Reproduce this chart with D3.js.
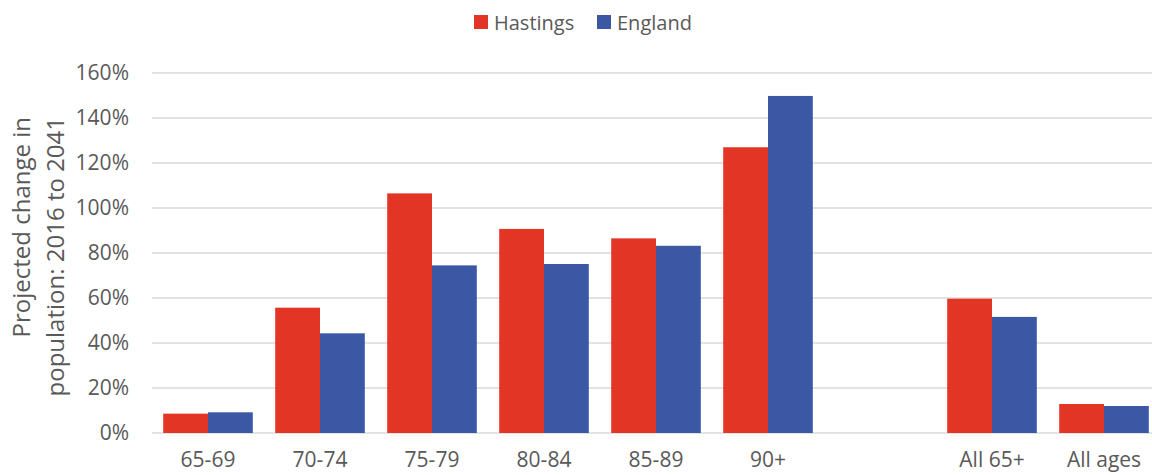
<!DOCTYPE html>
<html>
<head>
<meta charset="utf-8">
<script src="https://cdn.jsdelivr.net/npm/d3@7"></script>
<style>
  body { margin: 0; background: #fff; }
  text { font-family: "Open Sans", "Noto Sans", sans-serif; fill: #595959; }
</style>
</head>
<body>
<svg id="chart" width="1152" height="475"></svg>
<script>
// chart data
var categories = ["65-69", "70-74", "75-79", "80-84", "85-89", "90+", "", "All 65+", "All ages"];
var seriesNames = ["Hastings", "England"];
var hastings = [8.6, 55.7, 106.5, 90.7, 86.5, 127, null, 59.7, 12.9];
var england = [9.2, 44.3, 74.5, 75.1, 83.2, 149.8, null, 51.6, 12.0];
var yTicks = [0, 20, 40, 60, 80, 100, 120, 140, 160];
var colors = ["#e33526", "#3c57a3"];

var svg = d3.select("#chart");
var width = +svg.attr("width");
var height = +svg.attr("height");

var x = d3.scaleBand()
    .domain(d3.range(categories.length))
    .range([152, 1160])
    .paddingInner(0.2)
    .paddingOuter(0.1);

var xs = d3.scaleBand()
    .domain(seriesNames)
    .range([0, x.bandwidth()]);

var y = d3.scaleLinear().domain([0, 160]).range([433, 73]);

// gridlines
svg.append("g")
    .selectAll("line")
    .data(yTicks)
    .enter().append("line")
      .attr("x1", 152)
      .attr("x2", width)
      .attr("y1", function(d) { return y(d); })
      .attr("y2", function(d) { return y(d); })
      .attr("stroke", "#d9d9d9")
      .attr("stroke-width", 1.5);

// y axis labels
var yAxis = d3.axisLeft(y)
    .tickValues(yTicks)
    .tickFormat(function(d) { return d + "%"; })
    .tickSize(0)
    .tickPadding(0);

var gy = svg.append("g")
    .attr("transform", "translate(129,0)")
    .call(yAxis);
gy.select(".domain").remove();
gy.selectAll("text")
    .style("font-size", "21px")
    .attr("fill", "#595959");

// bars
var rows = categories.map(function(c, i) {
  return { i: i, values: [hastings[i], england[i]] };
});

var groups = svg.append("g")
    .selectAll("g")
    .data(rows)
    .enter().append("g")
      .attr("transform", function(d) { return "translate(" + x(d.i) + ",0)"; });

groups.selectAll("rect")
    .data(function(d) {
      return d.values.map(function(v, k) { return { name: seriesNames[k], v: v, k: k }; })
        .filter(function(e) { return e.v != null; });
    })
    .enter().append("rect")
      .attr("x", function(d) { return xs(d.name); })
      .attr("y", function(d) { return y(d.v); })
      .attr("width", xs.bandwidth())
      .attr("height", function(d) { return y(0) - y(d.v); })
      .attr("fill", function(d) { return colors[d.k]; });

// x axis labels
var xAxis = d3.axisBottom(x)
    .tickFormat(function(i) { return categories[i]; })
    .tickSize(0)
    .tickPadding(0);

var gx = svg.append("g")
    .attr("transform", "translate(0,452)")
    .call(xAxis);
gx.select(".domain").remove();
gx.selectAll("text")
    .style("font-size", "21px")
    .attr("fill", "#595959");

// y title
var title = svg.append("text")
    .attr("transform", "translate(30,117) rotate(-90)")
    .attr("text-anchor", "end")
    .style("font-size", "24px");
title.append("tspan").attr("x", 0).attr("y", 0).text("Projected change in");
title.append("tspan").attr("x", 0).attr("y", 34).text("population: 2016 to 2041");

// legend
var legendX = [474, 597];
var legend = svg.append("g")
    .selectAll("g")
    .data(seriesNames)
    .enter().append("g")
      .attr("transform", function(d, i) { return "translate(" + legendX[i] + ",15)"; });

legend.append("rect")
    .attr("width", 14)
    .attr("height", 14)
    .attr("fill", function(d, i) { return colors[i]; });

legend.append("text")
    .attr("x", 20)
    .attr("y", 14.5)
    .style("font-size", "20px")
    .text(function(d) { return d; });
</script>
</body>
</html>
